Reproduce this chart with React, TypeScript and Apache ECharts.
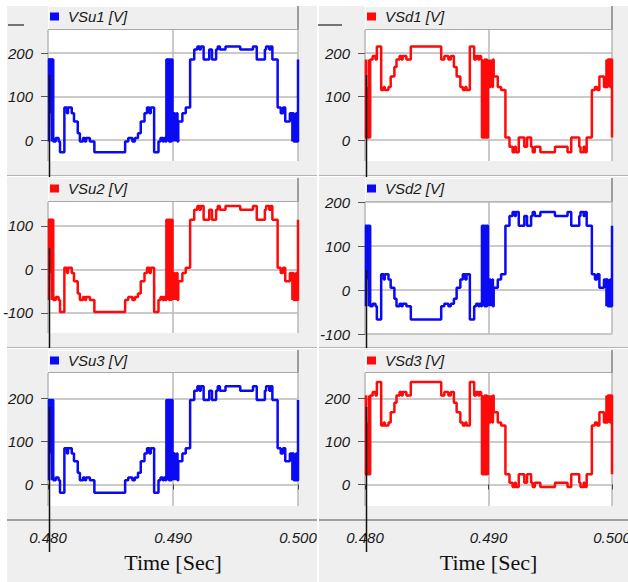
import React, { useEffect, useRef } from "react";
import * as echarts from "echarts";

// Switching instants (s) shared by all six inverter output voltages
const STEP_TIMES = [
  0.48, 0.48008, 0.48012, 0.4802, 0.48024, 0.48032, 0.48036, 0.48042, 0.48062, 0.48085,
  0.48096, 0.48131, 0.48152, 0.4816, 0.4819, 0.48208, 0.48238, 0.48255, 0.4828, 0.48295,
  0.48305, 0.48335, 0.48371, 0.48617, 0.48642, 0.48675, 0.48695, 0.4872, 0.48742, 0.48772,
  0.48792, 0.48812, 0.48822, 0.48849, 0.48884, 0.489, 0.48918, 0.48928, 0.4894, 0.48947,
  0.48955, 0.4896, 0.48968, 0.48974, 0.48982, 0.48988, 0.48996, 0.49, 0.49006, 0.4901,
  0.49016, 0.4902, 0.49026, 0.4903, 0.49036, 0.49042, 0.49075, 0.49102, 0.49137, 0.4917,
  0.49195, 0.49212, 0.49222, 0.49245, 0.4929, 0.49312, 0.49345, 0.49358, 0.49375, 0.4942,
  0.49538, 0.4964, 0.4967, 0.49735, 0.49745, 0.4977, 0.4978, 0.49795, 0.49837, 0.49862,
  0.4988, 0.49898, 0.49935, 0.49955, 0.4996, 0.49966, 0.49972, 0.49978, 0.49984, 0.4999,
  0.5,
];

// Output level index held from each switching instant
const STEP_LEVELS = [
  7, 1, 7, 5, 7, 1, 7, 1, 2, 1,
  0, 6, 5, 6, 5, 4, 3, 1, 2, 1,
  2, 1, 0, 1, 2, 1, 2, 3, 4, 5,
  6, 5, 6, 0, 1, 2, 1, 2, 1, 7,
  1, 7, 1, 7, 1, 7, 1, 5, 1, 5,
  1, 4, 1, 5, 1, 4, 5, 6, 7, 8,
  9, 8, 9, 7, 8, 7, 8, 9, 8, 9,
  8, 9, 7, 8, 9, 8, 9, 7, 6, 5,
  6, 4, 5, 1, 5, 1, 4, 1, 5, 1,
  7,
];

// Voltage (V) of each level index, per output
const LEVELS_VSU1 = [-28, -3, 5, 16, 43, 62, 75, 185, 208, 215];
const LEVELS_VSD1 = [215, 185, 193, 168, 146, 122, 115, 6, -15, -28];
const LEVELS_VSU2 = [-98, -70, -63, -55, -27, -8, 4, 114, 137, 146];
const LEVELS_VSD2 = [-67, -37, -31, -20, 5, 24, 36, 146, 168, 177];
const LEVELS_VSU3 = [-19, 10, 16, 27, 54, 72, 84, 196, 218, 228];
const LEVELS_VSD3 = [238, 207, 215, 190, 168, 144, 137, 24, 4, -6];

const SERIES_NAMES = ["VSu1 [V]", "VSd1 [V]", "VSu2 [V]", "VSd2 [V]", "VSu3 [V]", "VSd3 [V]"];
const SERIES_LEVELS = [LEVELS_VSU1, LEVELS_VSD1, LEVELS_VSU2, LEVELS_VSD2, LEVELS_VSU3, LEVELS_VSD3];
const SERIES_COLORS = ["#0a0af5", "#ff0a0a", "#ff0a0a", "#0a0af5", "#0a0af5", "#ff0a0a"];

// Value axis ranges and labelled ticks
const Y_RANGES = [[-48, 253], [-48, 253], [-146, 155], [-100, 200], [-50, 259], [-50, 259]];
const Y_TICKS = [[0, 100, 200], [0, 100, 200], [-100, 0, 100], [-100, 0, 100, 200], [0, 100, 200], [0, 100, 200]];
const X_RANGE = [0.48, 0.5];

// Plot boxes [left, top, width, height] and header bands [top, height]
const BOXES = [
  [48, 30, 250, 131], [365, 30, 247, 131],
  [48, 202, 250, 131], [365, 202, 247, 132],
  [48, 373, 250, 133], [365, 373, 247, 133],
];
const HEADERS = [[6, 24], [6, 24], [178, 24], [178, 24], [350, 23], [350, 23]];
const CURSOR_SPANS = [[75, 177], [75, 177], [248, 348], [270, 348], [407, 552], [407, 552]];

const BG = "#efefef";
const GRID_LINE = "#b9b9b9";
const SANS = "'Liberation Sans', Arial, sans-serif";

function buildOption() {
  const grids = BOXES.map(([left, top, width, height]) => ({
    left, top, width, height,
    outerBoundsMode: "none", containLabel: false,
    show: true, backgroundColor: "#ffffff", borderWidth: 0,
  }));

  const xAxes = BOXES.map((_, i) => {
    const bottom = i >= 4;
    return {
      type: "value", gridIndex: i, min: X_RANGE[0], max: X_RANGE[1], interval: 0.01,
      offset: bottom ? 14 : 0,
      axisLine: { show: false },
      axisTick: { show: bottom, length: 5, lineStyle: { color: "#444", width: 1 } },
      axisLabel: {
        show: bottom, margin: 10, fontFamily: SANS, fontStyle: "italic", fontSize: 15, color: "#1a1a1a",
        showMinLabel: true, showMaxLabel: true, hideOverlap: false,
        formatter: (v: number) => v.toFixed(3),
      },
      splitLine: { show: true, lineStyle: { color: GRID_LINE, width: 1.5 } },
      name: bottom ? "Time [Sec]" : "",
      nameLocation: "middle", nameGap: 31,
      nameTextStyle: { fontFamily: "'Liberation Serif', 'Times New Roman', serif", fontSize: 22, color: "#111" },
    };
  });

  const yAxes = BOXES.map((_, i) => ({
    type: "value", gridIndex: i, min: Y_RANGES[i][0], max: Y_RANGES[i][1],
    axisLine: { show: false },
    axisTick: { show: true, length: 7, customValues: Y_TICKS[i], lineStyle: { color: "#555", width: 1 } },
    axisLabel: {
      customValues: Y_TICKS[i], margin: 15, fontFamily: SANS, fontStyle: "italic", fontSize: 15, color: "#1a1a1a",
      showMinLabel: true, showMaxLabel: true,
    },
    splitLine: { show: true, lineStyle: { color: GRID_LINE, width: 1.5 } },
  }));

  const series = SERIES_NAMES.map((name, i) => ({
    name, type: "line", xAxisIndex: i, yAxisIndex: i, step: "end",
    showSymbol: false, symbol: "none", clip: true, silent: true,
    lineStyle: { width: 2.5, color: SERIES_COLORS[i] },
    itemStyle: { color: SERIES_COLORS[i] },
    data: STEP_TIMES.map((t, k) => [t, SERIES_LEVELS[i][STEP_LEVELS[k]]]),
  }));

  const legends = SERIES_NAMES.map((name, i) => ({
    data: [name], left: BOXES[i][0] + 2, top: HEADERS[i][0] + 3,
    icon: "rect", itemWidth: 9, itemHeight: 8, padding: 0, selectedMode: false,
    textStyle: { fontFamily: SANS, fontStyle: "italic", fontSize: 15, color: "#1a1a1a", padding: [0, 0, 0, 4] },
  }));

  const graphics: any[] = [];
  // page margins and column gap
  graphics.push({ type: "rect", shape: { x: 0, y: 0, width: 628, height: 6 }, style: { fill: "#fff" } });
  graphics.push({ type: "rect", shape: { x: 0, y: 0, width: 7, height: 582 }, style: { fill: "#fff" } });
  graphics.push({ type: "rect", shape: { x: 317, y: 6, width: 2, height: 576 }, style: { fill: "#fff" } });
  // row separators
  [175.5, 347.5].forEach((y) => {
    [[7, 317], [319, 628]].forEach(([x1, x2]) => {
      graphics.push({ type: "line", shape: { x1, y1: y, x2, y2: y }, style: { stroke: "#b4b4b4", lineWidth: 1 } });
      graphics.push({ type: "line", shape: { x1, y1: y + 1, x2, y2: y + 1 }, style: { stroke: "#ffffff", lineWidth: 1 } });
    });
  });
  // bottom time axis lines
  [[7, 317], [319, 628]].forEach(([x1, x2]) => {
    graphics.push({ type: "line", shape: { x1, y1: 520, x2, y2: 520 }, style: { stroke: "#a0a0a0", lineWidth: 2 } });
  });
  // header bands above each plot
  BOXES.forEach(([left, top, width], i) => {
    const [hTop, hH] = HEADERS[i];
    const right = left + width;
    graphics.push({ type: "rect", shape: { x: left, y: hTop, width, height: hH }, style: { fill: BG } });
    graphics.push({ type: "line", shape: { x1: left + 0.5, y1: hTop, x2: left + 0.5, y2: hTop + hH }, style: { stroke: "#ffffff", lineWidth: 1 } });
    graphics.push({ type: "line", shape: { x1: left, y1: hTop + 0.5, x2: right, y2: hTop + 0.5 }, style: { stroke: "#ffffff", lineWidth: 1 } });
    graphics.push({ type: "line", shape: { x1: right, y1: hTop, x2: right, y2: hTop + hH }, style: { stroke: "#9c9c9c", lineWidth: 2 } });
    graphics.push({ type: "line", shape: { x1: left, y1: top - 0.5, x2: right, y2: top - 0.5 }, style: { stroke: "#a8a8a8", lineWidth: 1 } });
    // cursor at start of window
    const [c1, c2] = CURSOR_SPANS[i];
    graphics.push({ type: "line", z: 20, shape: { x1: left + 1.5, y1: c1, x2: left + 1.5, y2: c2 }, style: { stroke: "#111", lineWidth: 1.5 } });
  });
  // unit marks at the top of each value column
  [[8, 24], [318, 342]].forEach(([x1, x2]) => {
    graphics.push({ type: "line", shape: { x1, y1: 25, x2, y2: 25 }, style: { stroke: "#222", lineWidth: 1.2 } });
  });

  return {
    animation: false,
    backgroundColor: BG,
    grid: grids,
    xAxis: xAxes,
    yAxis: yAxes,
    legend: legends,
    series,
    graphic: { elements: graphics },
  };
}

export default function App() {
  const ref = useRef<HTMLDivElement>(null);
  useEffect(() => {
    const chart = echarts.init(ref.current!, null, { renderer: "svg" });
    chart.setOption(buildOption() as any);
    return () => chart.dispose();
  }, []);
  return (
    <div
      ref={ref}
      style={{ position: "absolute", left: 0, top: 0, width: 628, height: 582 }}
    />
  );
}
